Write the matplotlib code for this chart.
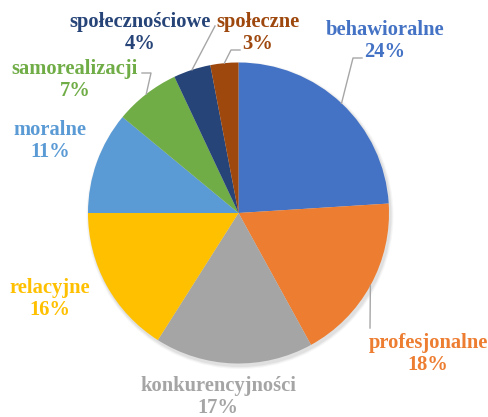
import numpy as np
from matplotlib import pyplot as plt

plt.rcParams['font.family'] = ['Liberation Serif', 'DejaVu Serif']

categories = ['behawioralne', 'profesjonalne', 'konkurencyjności', 'relacyjne',
              'moralne', 'samorealizacji', 'społecznościowe', 'społeczne']
values = [24, 18, 17, 16, 11, 7, 4, 3]
colors = ['#4472C4', '#ED7D31', '#A5A5A5', '#FFC000',
          '#5B9BD5', '#70AD47', '#264478', '#9E480E']

# label centres in pixel coords (x, y from top)
label_pos = [(385, 41), (428, 354), (218, 397), (50, 299),
             (50, 141), (75, 80), (140, 33), (258, 33)]
# elbow points of the leader lines (None = no leader)
elbows = [[(353, 58), (362, 58)],
          [(370, 328)],
          None, None, None,
          [(151, 73), (142, 73)],
          [(215, 26)],
          [(231, 50), (240, 50)]]

W, H = 489, 417
cx, cy, r = 238.5, H - 213, 150.5

fig = plt.figure(figsize=(W / 100, H / 100), dpi=100)
ax = fig.add_axes([0, 0, 1, 1])

# soft shadow
for i, a in enumerate([0.05, 0.04, 0.03]):
  ax.add_patch(plt.Circle((cx + 1.5, cy - 2.5), r + 1 + i, color='black',
                          alpha=a, lw=0, zorder=0))

wedges, _ = ax.pie(values, colors=colors, startangle=90, counterclock=False,
                   center=(cx, cy), radius=r, wedgeprops=dict(linewidth=0))

for w, name, v, col, (lx, ly), el in zip(wedges, categories, values, colors,
                                            label_pos, elbows):
  ax.text(lx, H - ly, '%s\n%d%%' % (name, v), color=col, fontsize=14.8,
          fontweight='bold', ha='center', va='center', linespacing=1.1)
  if el:
    mid = np.deg2rad((w.theta1 + w.theta2) / 2)
    pts = [(cx + r * np.cos(mid), cy + r * np.sin(mid))]
    pts += [(x, H - y) for x, y in el]
    xs, ys = zip(*pts)
    ax.plot(xs, ys, color='#A6A6A6', lw=1, zorder=5)

ax.set_xlim(0, W)
ax.set_ylim(0, H)
ax.set_aspect('equal')
ax.axis('off')

fig.savefig('out.png', dpi=100)
